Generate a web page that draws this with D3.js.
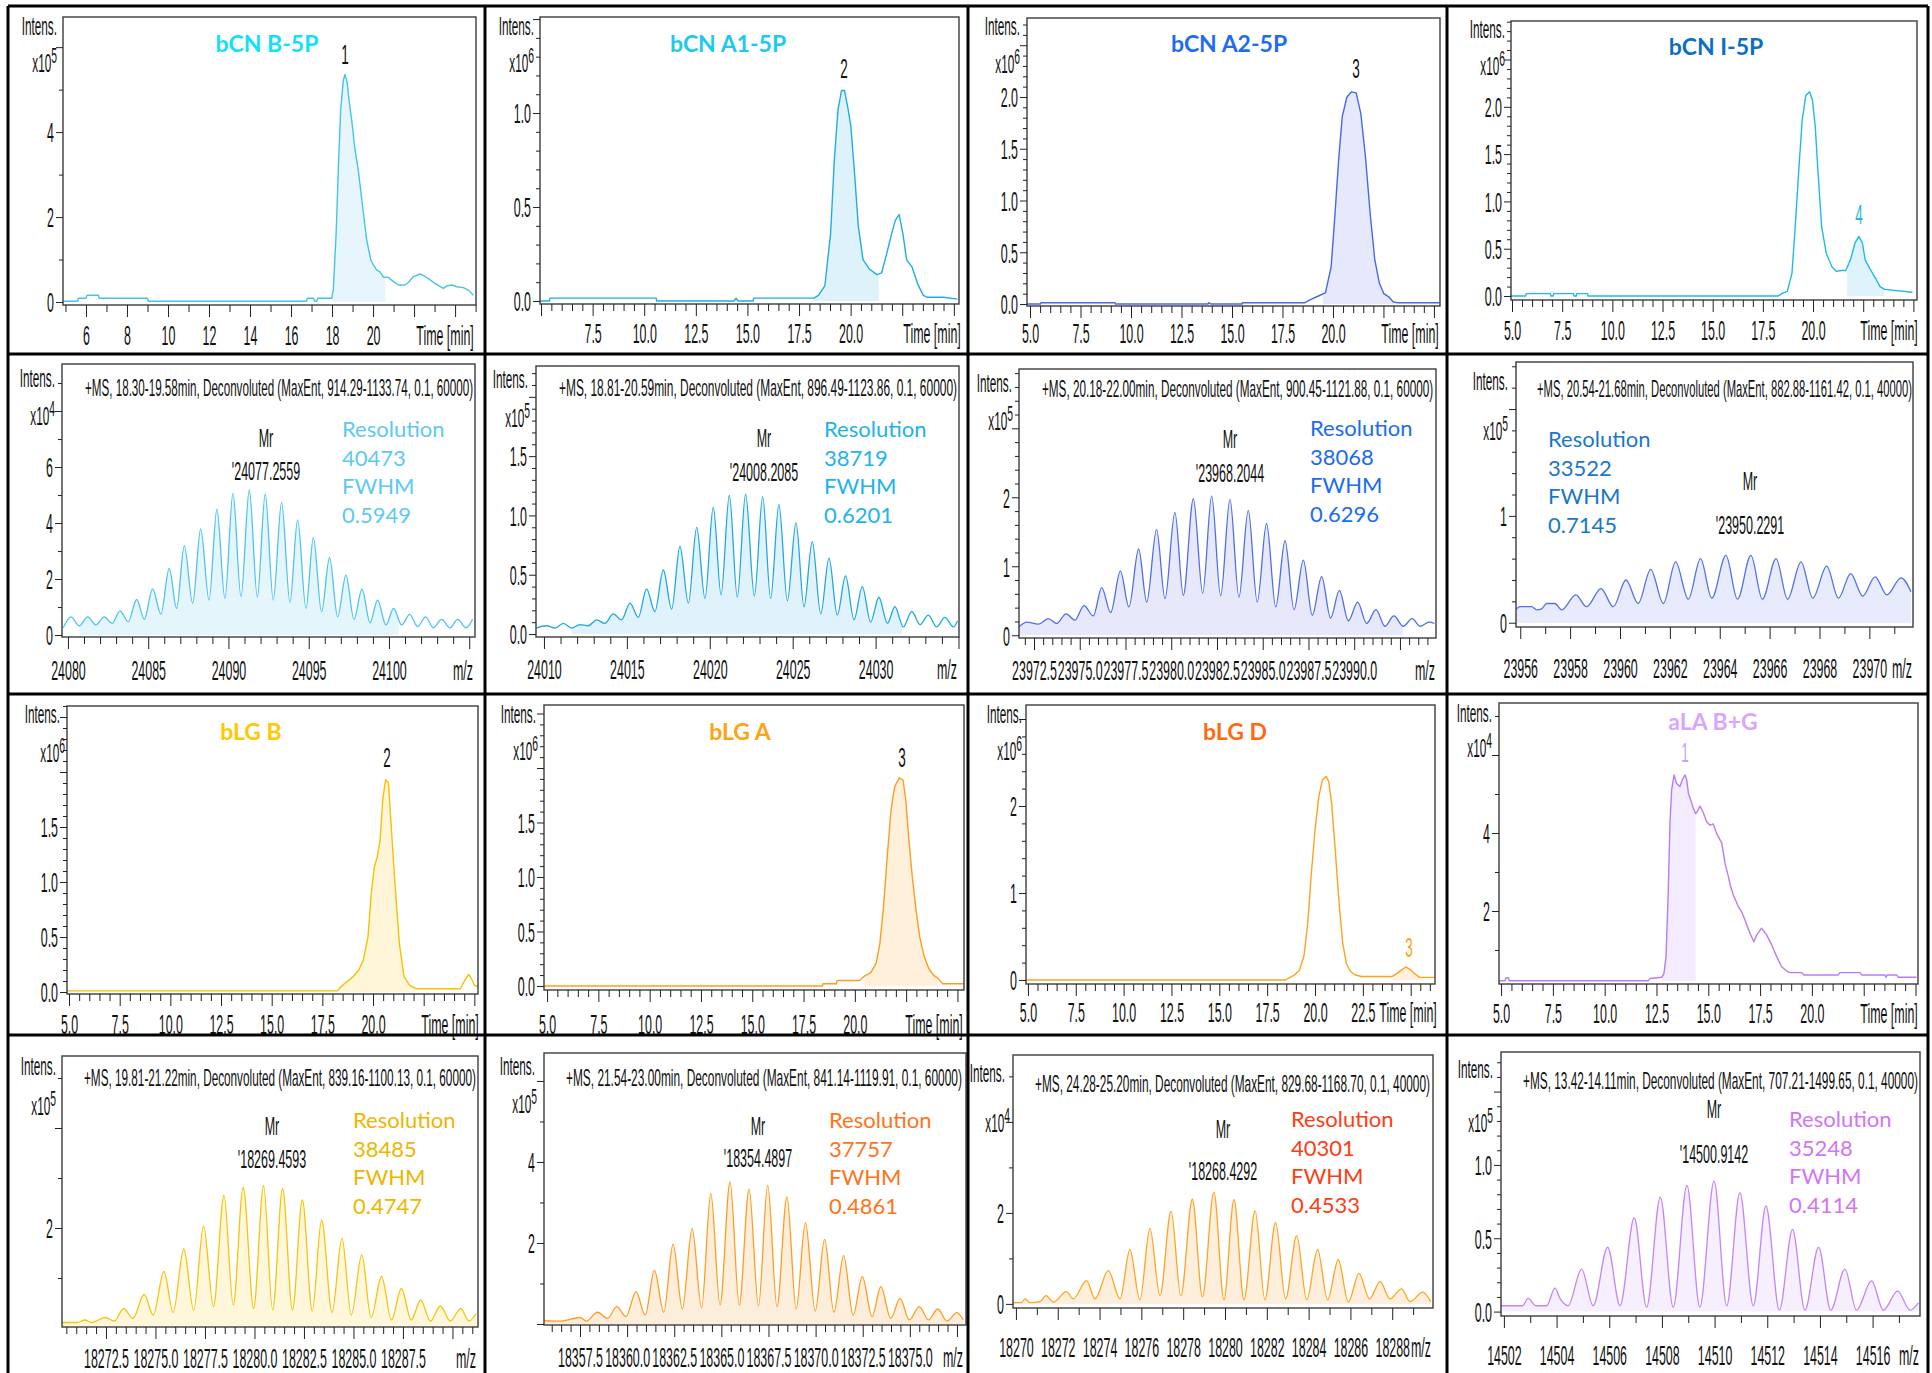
<!DOCTYPE html>
<html>
<head>
<meta charset="utf-8">
<script src="https://cdn.jsdelivr.net/npm/d3@7"></script>
<style>
  html, body { margin: 0; padding: 0; background: #fff; }
  svg { display: block; }
</style>
</head>
<body>
<script>
// ---------- sample names, annotations ----------
const titles = ["bCN B-5P", "bCN A1-5P", "bCN A2-5P", "bCN I-5P", "bLG B", "bLG A", "bLG D", "aLA B+G"];
const peakTags = ["1", "2", "3", "4", "2", "3", "3", "1"];
const scanHeaders = [
  "+MS, 18.30-19.58min, Deconvoluted (MaxEnt, 914.29-1133.74, 0.1, 60000)",
  "+MS, 18.81-20.59min, Deconvoluted (MaxEnt, 896.49-1123.86, 0.1, 60000)",
  "+MS, 20.18-22.00min, Deconvoluted (MaxEnt, 900.45-1121.88, 0.1, 60000)",
  "+MS, 20.54-21.68min, Deconvoluted (MaxEnt, 882.88-1161.42, 0.1, 40000)",
  "+MS, 19.81-21.22min, Deconvoluted (MaxEnt, 839.16-1100.13, 0.1, 60000)",
  "+MS, 21.54-23.00min, Deconvoluted (MaxEnt, 841.14-1119.91, 0.1, 60000)",
  "+MS, 24.28-25.20min, Deconvoluted (MaxEnt, 829.68-1168.70, 0.1, 40000)",
  "+MS, 13.42-14.11min, Deconvoluted (MaxEnt, 707.21-1499.65, 0.1, 40000)"
];
const mrValues = ["24077.2559", "24008.2085", "23968.2044", "23950.2291", "18269.4593", "18354.4897", "18268.4292", "14500.9142"];
const resolutions = ["40473", "38719", "38068", "33522", "38485", "37757", "40301", "35248"];
const fwhms = ["0.5949", "0.6201", "0.6296", "0.7145", "0.4747", "0.4861", "0.4533", "0.4114"];
const exponents = [5, 6, 6, 6, 4, 5, 5, 5, 6, 6, 6, 4, 5, 5, 4, 5];

// ---------- tick values ----------
const ticksTime2 = [6, 8, 10, 12, 14, 16, 18, 20, 22, 24];
const labelsTime2 = [6, 8, 10, 12, 14, 16, 18, 20];
const ticksTime25 = [5, 7.5, 10, 12.5, 15, 17.5, 20, 22.5, 25];
const labelsTime20 = [5, 7.5, 10, 12.5, 15, 17.5, 20];
const labelsTime20b = [7.5, 10, 12.5, 15, 17.5, 20];
const labelsTime225 = [5, 7.5, 10, 12.5, 15, 17.5, 20, 22.5];
const ticksMzB = [24080, 24085, 24090, 24095, 24100, 24105];
const labelsMzB = [24080, 24085, 24090, 24095, 24100];
const ticksMzA1 = [24010, 24015, 24020, 24025, 24030, 24035];
const labelsMzA1 = [24010, 24015, 24020, 24025, 24030];
const ticksMzA2 = [23972.5, 23975, 23977.5, 23980, 23982.5, 23985, 23987.5, 23990, 23992.5];
const labelsMzA2 = [23972.5, 23975, 23977.5, 23980, 23982.5, 23985, 23987.5, 23990];
const ticksMzI = [23956, 23958, 23960, 23962, 23964, 23966, 23968, 23970];
const ticksMzLgB = [18272.5, 18275, 18277.5, 18280, 18282.5, 18285, 18287.5, 18290];
const labelsMzLgB = [18272.5, 18275, 18277.5, 18280, 18282.5, 18285, 18287.5];
const ticksMzLgA = [18357.5, 18360, 18362.5, 18365, 18367.5, 18370, 18372.5, 18375, 18377.5];
const labelsMzLgA = [18357.5, 18360, 18362.5, 18365, 18367.5, 18370, 18372.5, 18375];
const ticksMzLgD = [18270, 18272, 18274, 18276, 18278, 18280, 18282, 18284, 18286, 18288];
const ticksMzLa = [14502, 14504, 14506, 14508, 14510, 14512, 14514, 14516];

// ---------- chromatograms: [time (min), intensity] ----------
const bcnB5P_tic = [[4.88,0.02],[5.6,0.02],[5.62,0.09],[6.0,0.09],[6.05,0.16],[6.6,0.16],[6.65,0.09],[9.0,0.09],[9.05,0.02],[16.75,0.02],[16.8,0.09],[17.1,0.09],[17.15,0.02],[17.25,0.02],[17.3,0.09],[17.98,0.09],[18.06,0.28],[18.2,1.62],[18.31,3.18],[18.42,4.52],[18.55,5.22],[18.63,5.36],[18.74,5.15],[18.83,4.75],[18.96,4.28],[19.12,3.58],[19.28,3.10],[19.53,2.09],[19.69,1.46],[19.89,0.99],[20.02,0.87],[20.18,0.75],[20.34,0.71],[20.5,0.59],[20.75,0.58],[20.99,0.48],[21.23,0.40],[21.56,0.40],[21.72,0.46],[21.97,0.60],[22.29,0.66],[22.54,0.60],[22.78,0.52],[23.02,0.44],[23.43,0.32],[23.6,0.38],[23.84,0.40],[24.08,0.36],[24.4,0.34],[24.65,0.28],[24.89,0.16]];
const bcnA15P_tic = [[4.95,0.0],[5.41,0.0],[5.43,0.015],[10.58,0.015],[10.6,0.0],[14.35,0.0],[14.45,0.015],[14.55,0.0],[15.28,0.0],[15.3,0.015],[18.22,0.015],[18.44,0.03],[18.75,0.08],[19.03,0.36],[19.21,0.75],[19.39,1.02],[19.56,1.12],[19.70,1.12],[19.88,1.02],[20.01,0.93],[20.19,0.68],[20.37,0.40],[20.60,0.22],[20.91,0.17],[21.27,0.14],[21.50,0.15],[21.72,0.24],[21.99,0.36],[22.17,0.43],[22.35,0.46],[22.53,0.36],[22.71,0.22],[22.98,0.18],[23.25,0.09],[23.52,0.03],[23.70,0.02],[24.50,0.02],[25.18,0.01]];
const bcnA25P_tic = [[4.85,0.0],[5.52,0.0],[5.54,0.013],[9.21,0.013],[9.23,0.0],[13.81,0.0],[13.85,0.013],[13.95,0.0],[15.50,0.0],[15.52,0.013],[18.61,0.013],[18.86,0.04],[19.31,0.08],[19.63,0.11],[19.91,0.36],[20.09,0.84],[20.28,1.39],[20.46,1.81],[20.69,2.0],[20.92,2.05],[21.15,2.04],[21.38,1.84],[21.61,1.42],[21.84,0.88],[22.07,0.43],[22.30,0.20],[22.52,0.10],[22.76,0.07],[22.99,0.02],[23.21,0.013],[25.28,0.013]];
const bcnI5P_tic = [[4.95,0.0],[5.68,0.0],[5.70,0.025],[6.92,0.025],[6.94,0.0],[7.05,0.0],[7.07,0.025],[8.07,0.025],[8.09,0.0],[8.2,0.0],[8.22,0.025],[8.77,0.025],[8.79,0.0],[18.25,0.0],[18.49,0.03],[18.72,0.05],[18.95,0.24],[19.09,0.66],[19.28,1.30],[19.46,1.86],[19.64,2.12],[19.83,2.16],[19.97,2.07],[20.11,1.79],[20.25,1.30],[20.43,0.73],[20.66,0.45],[20.94,0.31],[21.17,0.26],[21.40,0.27],[21.63,0.27],[21.86,0.38],[22.09,0.56],[22.28,0.63],[22.46,0.56],[22.60,0.38],[22.83,0.29],[23.11,0.19],[23.34,0.10],[23.57,0.07],[24.95,0.04]];
const blgB_tic = [[4.9,0.01],[18.25,0.01],[18.38,0.04],[18.61,0.08],[18.84,0.11],[19.07,0.15],[19.30,0.2],[19.52,0.29],[19.75,0.5],[19.93,0.93],[20.07,1.14],[20.21,1.23],[20.35,1.38],[20.48,1.75],[20.62,1.93],[20.76,1.90],[20.89,1.53],[21.08,0.99],[21.30,0.44],[21.53,0.14],[21.81,0.06],[22.12,0.03],[24.31,0.03],[24.54,0.11],[24.72,0.16],[24.86,0.12],[25.0,0.06],[25.18,0.05]];
const blgA_tic = [[4.85,0.0],[18.43,0.0],[18.45,0.02],[19.11,0.02],[19.13,0.05],[20.23,0.05],[20.46,0.09],[20.77,0.12],[21.04,0.21],[21.22,0.39],[21.40,0.73],[21.58,1.19],[21.76,1.61],[21.94,1.83],[22.17,1.91],[22.35,1.89],[22.48,1.71],[22.62,1.37],[22.80,1.0],[22.98,0.70],[23.16,0.45],[23.38,0.27],[23.60,0.16],[23.83,0.10],[24.06,0.07],[24.28,0.02],[25.3,0.02]];
const blgD_tic = [[4.9,0.0],[18.45,0.0],[18.70,0.03],[18.94,0.06],[19.18,0.11],[19.42,0.27],[19.62,0.65],[19.81,1.23],[20.00,1.72],[20.20,2.11],[20.39,2.30],[20.58,2.34],[20.72,2.28],[20.87,2.03],[21.06,1.49],[21.26,0.88],[21.45,0.42],[21.64,0.19],[21.84,0.10],[22.08,0.06],[22.42,0.04],[24.01,0.04],[24.25,0.07],[24.49,0.11],[24.74,0.15],[24.98,0.12],[25.22,0.07],[25.46,0.03],[26.27,0.03]];
const alaBG_tic = [[4.9,0.21],[5.19,0.21],[5.24,0.29],[5.35,0.29],[5.40,0.21],[12.11,0.21],[12.19,0.27],[12.75,0.30],[12.86,0.40],[12.96,0.83],[13.07,2.54],[13.15,4.25],[13.23,5.10],[13.35,5.49],[13.47,5.27],[13.63,5.19],[13.76,5.38],[13.88,5.49],[13.96,5.36],[14.04,5.02],[14.15,4.85],[14.28,4.63],[14.39,4.50],[14.47,4.55],[14.60,4.69],[14.76,4.52],[14.92,4.29],[15.08,4.20],[15.24,4.23],[15.40,3.99],[15.65,3.74],[15.81,3.22],[15.97,2.88],[16.08,2.62],[16.21,2.41],[16.45,2.11],[16.61,1.98],[16.77,1.77],[17.01,1.43],[17.20,1.21],[17.33,1.38],[17.57,1.56],[17.82,1.38],[18.06,1.13],[18.30,0.83],[18.54,0.57],[18.78,0.46],[18.94,0.42],[19.50,0.42],[19.62,0.36],[21.27,0.36],[21.35,0.42],[22.32,0.42],[22.40,0.36],[23.52,0.36],[23.57,0.30],[23.64,0.36],[24.09,0.36],[24.17,0.30],[25.05,0.30]];

// ---------- deconvoluted spectra: [m/z, intensity] (apex and valley points) ----------
const bcnB5P_ms = [[24079.71,0.26],[24080.19,0.65],[24080.71,0.33],[24081.23,0.65],[24081.74,0.36],[24082.26,0.65],[24082.76,0.42],[24083.24,0.86],[24083.76,0.48],[24084.28,1.27],[24084.76,0.56],[24085.27,1.65],[24085.79,0.75],[24086.31,2.38],[24086.77,0.95],[24087.25,3.19],[24087.77,1.13],[24088.27,3.79],[24088.79,1.25],[24089.28,4.50],[24089.78,1.31],[24090.28,5.06],[24090.78,1.37],[24091.30,5.18],[24091.80,1.35],[24092.29,5.04],[24092.79,1.25],[24093.31,4.74],[24093.83,1.17],[24094.31,4.11],[24094.83,0.95],[24095.29,3.48],[24095.80,0.83],[24096.30,2.77],[24096.80,0.65],[24097.32,2.14],[24097.82,0.56],[24098.32,1.64],[24098.82,0.44],[24099.29,1.25],[24099.81,0.36],[24100.29,0.95],[24100.79,0.36],[24101.29,0.74],[24101.79,0.30],[24102.28,0.65],[24102.76,0.26],[24103.28,0.56],[24103.80,0.26],[24104.28,0.56],[24104.80,0.26],[24105.21,0.56]];
const bcnA15P_ms = [[24009.52,0.05],[24010.16,0.07],[24010.66,0.05],[24011.17,0.09],[24011.67,0.05],[24012.17,0.08],[24012.67,0.07],[24013.18,0.12],[24013.68,0.09],[24014.18,0.17],[24014.68,0.12],[24015.19,0.26],[24015.69,0.14],[24016.19,0.38],[24016.69,0.19],[24017.20,0.54],[24017.70,0.21],[24018.20,0.74],[24018.71,0.26],[24019.21,0.90],[24019.71,0.30],[24020.21,1.07],[24020.68,0.33],[24021.18,1.17],[24021.66,0.31],[24022.16,1.18],[24022.69,0.32],[24023.19,1.16],[24023.67,0.30],[24024.17,1.09],[24024.68,0.28],[24025.20,0.94],[24025.68,0.23],[24026.18,0.78],[24026.69,0.17],[24027.19,0.64],[24027.69,0.16],[24028.19,0.49],[24028.70,0.12],[24029.20,0.40],[24029.70,0.10],[24030.20,0.31],[24030.71,0.09],[24031.17,0.23],[24031.67,0.06],[24032.18,0.19],[24032.68,0.08],[24033.18,0.16],[24033.68,0.06],[24034.18,0.14],[24034.69,0.06],[24034.94,0.11]];
const bcnA25P_ms = [[23971.68,0.12],[23972.10,0.19],[23972.74,0.16],[23973.28,0.24],[23973.74,0.17],[23974.25,0.31],[23974.74,0.22],[23975.23,0.43],[23975.74,0.28],[23976.20,0.69],[23976.69,0.33],[23977.22,0.93],[23977.69,0.41],[23978.22,1.25],[23978.66,0.48],[23979.20,1.53],[23979.66,0.53],[23980.20,1.78],[23980.66,0.58],[23981.21,1.98],[23981.72,0.61],[23982.21,2.02],[23982.70,0.57],[23983.21,1.97],[23983.70,0.55],[23984.21,1.81],[23984.70,0.48],[23985.21,1.62],[23985.71,0.41],[23986.22,1.37],[23986.71,0.37],[23987.22,1.09],[23987.71,0.29],[23988.22,0.85],[23988.71,0.25],[23989.19,0.65],[23989.68,0.21],[23990.19,0.48],[23990.68,0.17],[23991.19,0.37],[23991.68,0.13],[23992.17,0.28],[23992.68,0.13],[23993.17,0.24],[23993.59,0.13],[23994.10,0.19],[23994.38,0.17]];
const bcnI5P_ms = [[23955.81,0.12],[23955.99,0.15],[23956.46,0.15],[23956.66,0.12],[23956.86,0.13],[23957.06,0.18],[23957.39,0.18],[23957.66,0.12],[23958.23,0.26],[23958.66,0.15],[23959.24,0.32],[23959.73,0.15],[23960.24,0.40],[23960.73,0.18],[23961.23,0.50],[23961.74,0.18],[23962.23,0.57],[23962.74,0.22],[23963.23,0.60],[23963.68,0.23],[23964.25,0.63],[23964.71,0.22],[23965.25,0.63],[23965.71,0.22],[23966.26,0.60],[23966.72,0.22],[23967.26,0.57],[23967.73,0.23],[23968.29,0.53],[23968.76,0.23],[23969.25,0.46],[23969.73,0.25],[23970.23,0.43],[23970.70,0.26],[23971.27,0.42],[23971.67,0.29]];
const blgB_ms = [[18270.27,0.11],[18271.05,0.11],[18271.43,0.16],[18271.77,0.11],[18272.46,0.21],[18272.93,0.14],[18273.39,0.39],[18273.86,0.19],[18274.43,0.67],[18274.89,0.26],[18275.43,1.13],[18275.89,0.31],[18276.43,1.58],[18276.93,0.36],[18277.43,2.04],[18277.93,0.43],[18278.46,2.65],[18278.93,0.46],[18279.43,2.81],[18279.96,0.39],[18280.46,2.85],[18280.92,0.36],[18281.42,2.79],[18281.92,0.36],[18282.42,2.56],[18282.92,0.34],[18283.39,2.16],[18283.92,0.31],[18284.42,1.79],[18284.89,0.26],[18285.42,1.46],[18285.89,0.21],[18286.42,1.03],[18286.92,0.16],[18287.42,0.79],[18287.92,0.16],[18288.39,0.56],[18288.89,0.14],[18289.39,0.44],[18289.89,0.14],[18290.42,0.39],[18290.83,0.14],[18291.20,0.29]];
const blgA_ms = [[18355.61,0.08],[18356.43,0.07],[18357.51,0.16],[18357.84,0.07],[18358.43,0.29],[18358.96,0.14],[18359.45,0.43],[18359.94,0.18],[18360.47,0.80],[18360.96,0.22],[18361.45,1.33],[18361.94,0.29],[18362.44,1.97],[18362.93,0.37],[18363.45,2.36],[18363.95,0.40],[18364.44,3.23],[18364.93,0.47],[18365.46,3.51],[18365.95,0.47],[18366.47,3.33],[18366.97,0.45],[18367.46,3.43],[18367.95,0.43],[18368.48,3.14],[18368.97,0.37],[18369.46,2.51],[18369.98,0.32],[18370.48,2.09],[18370.97,0.29],[18371.49,1.69],[18371.99,0.22],[18372.48,1.17],[18373.00,0.18],[18373.46,0.92],[18373.99,0.14],[18374.48,0.63],[18374.97,0.10],[18375.50,0.43],[18375.99,0.10],[18376.48,0.37],[18376.97,0.07],[18377.50,0.28],[18377.83,0.10]];
const blgD_ms = [[18269.84,0.03],[18270.27,0.03],[18270.43,0.11],[18270.67,0.03],[18271.15,0.05],[18271.44,0.18],[18271.79,0.04],[18272.42,0.27],[18272.74,0.11],[18273.38,0.51],[18273.78,0.11],[18274.42,0.73],[18274.98,0.11],[18275.45,1.19],[18275.93,0.09],[18276.41,1.66],[18276.89,0.18],[18277.42,2.04],[18277.89,0.18],[18278.44,2.30],[18278.92,0.16],[18279.47,2.45],[18279.95,0.09],[18280.43,2.29],[18280.91,0.09],[18281.44,2.05],[18281.91,0.09],[18282.42,1.79],[18282.90,0.11],[18283.43,1.50],[18283.91,0.09],[18284.43,1.19],[18284.91,0.09],[18285.42,0.97],[18285.90,0.04],[18286.41,0.67],[18286.91,0.11],[18287.42,0.49],[18287.89,0.11],[18288.45,0.33],[18288.85,0.05],[18289.46,0.26],[18289.84,0.05]];
const alaBG_ms = [[14501.87,0.04],[14502.71,0.04],[14502.92,0.09],[14503.22,0.04],[14503.62,0.04],[14503.94,0.16],[14504.13,0.09],[14504.44,0.04],[14504.95,0.29],[14505.39,0.04],[14505.94,0.44],[14506.41,0.04],[14506.95,0.64],[14507.42,0.03],[14507.94,0.78],[14508.43,0.03],[14508.95,0.86],[14509.44,0.03],[14509.98,0.89],[14510.46,0.04],[14510.96,0.81],[14511.47,0.04],[14511.95,0.72],[14512.46,0.01],[14512.96,0.56],[14513.43,0.01],[14513.95,0.44],[14514.41,0.01],[14514.95,0.29],[14515.39,0.01],[14515.96,0.21],[14516.41,0.01],[14516.95,0.14],[14517.42,0.01],[14517.74,0.06]];

// ---------- panel layout ----------
const panels = [
  { kind: "tic", ti: 0, data: bcnB5P_tic, frame: [63, 17, 476, 305], xd: [4.88, 25.02], yd: [-0.07, 6.71],
    xMajor: ticksTime2, xLab: labelsTime2, xFmt: "d", xMinor: 1, yMajor: [0, 2, 4, 6], yLab: [0, 2, 4], yFmt: "d", yMinor: 1,
    labY: 335, unitX: 445, intens: [57, 35], expo: [57, 72], title: [267, 52, "#12e0f8"], tag: [345, 64, "#111"],
    line: "#45c3ee", area: "#e6f6fc", fill: [17.98, 20.6] },
  { kind: "tic", ti: 1, data: bcnA15P_tic, frame: [540, 17, 959, 304], xd: [4.95, 25.25], yd: [-0.016, 1.511],
    xMajor: ticksTime25, xLab: labelsTime20b, xFmt: ".1f", xMinor: 0.5, yMajor: [0, 0.5, 1, 1.5], yLab: [0, 0.5, 1], yFmt: ".1f", yMinor: 0.1,
    labY: 333, unitX: 932, intens: [534, 35], expo: [534, 72], title: [728, 52, "#1cc9ef"], tag: [844, 78, "#111"],
    line: "#22ace6", area: "#def2fb", fill: [18.2, 21.36] },
  { kind: "tic", ti: 2, data: bcnA25P_tic, frame: [1027, 18, 1440, 306], xd: [4.85, 25.30], yd: [-0.019, 2.763],
    xMajor: ticksTime25, xLab: labelsTime20, xFmt: ".1f", xMinor: 0.5, yMajor: [0, 0.5, 1, 1.5, 2, 2.5], yLab: [0, 0.5, 1, 1.5, 2], yFmt: ".1f", yMinor: 0.1,
    labY: 333, unitX: 1410, intens: [1020, 35], expo: [1020, 73], title: [1229, 52, "#1f6cf2"], tag: [1356, 78, "#111"],
    line: "#4a68e6", area: "#e6e9fb", fill: [19.5, 23.0] },
  { kind: "tic", ti: 3, data: bcnI5P_tic, frame: [1511, 21, 1917, 300], xd: [4.95, 25.18], yd: [-0.042, 2.907],
    xMajor: ticksTime25, xLab: labelsTime20, xFmt: ".1f", xMinor: 0.5, yMajor: [0, 0.5, 1, 1.5, 2, 2.5], yLab: [0, 0.5, 1, 1.5, 2], yFmt: ".1f", yMinor: 0.1,
    labY: 330, unitX: 1889, intens: [1505, 38], expo: [1505, 75], title: [1716, 55, "#0b6fc4"], tag: [1859, 224, "#29b4e8"],
    line: "#1ebbea", area: "#dff3fb", fill: [21.7, 23.57] },

  { kind: "ms", si: 0, data: bcnB5P_ms, frame: [62, 364, 475, 637], xd: [24079.63, 24105.36], yd: [-0.07, 9.68],
    xMajor: ticksMzB, xLab: labelsMzB, xFmt: "d", xMinor: 1, yMajor: [0, 2, 4, 6, 8], yLab: [0, 2, 4, 6], yFmt: "d", yMinor: 1,
    labY: 670, unitX: 463, intens: [55, 387], expo: [55, 425], head: [85, 473, 396], mr: [266, 447, 480], res: [342, 437, "#5ec9f4"],
    line: "#4cc4ef", area: "#e4f5fc", fill: [24080.71, 24100.6] },
  { kind: "ms", si: 1, data: bcnA15P_ms, frame: [536, 366, 959, 637], xd: [24009.52, 24035.03], yd: [-0.025, 2.26],
    xMajor: ticksMzA1, xLab: labelsMzA1, xFmt: "d", xMinor: 1, yMajor: [0, 0.5, 1, 1.5, 2], yLab: [0, 0.5, 1, 1.5], yFmt: ".1f", yMinor: 0.1,
    labY: 669, unitX: 947, intens: [528, 388], expo: [530, 427], head: [559, 957, 396], mr: [764, 447, 481], res: [824, 437, "#1db3ec"],
    line: "#20a8e4", area: "#e0f2fb", fill: [24011.67, 24031.6] },
  { kind: "ms", si: 2, data: bcnA25P_ms, frame: [1019, 369, 1436, 638], xd: [23971.68, 23994.47], yd: [-0.04, 3.86],
    xMajor: ticksMzA2, xLab: labelsMzA2, xFmt: ".1f", xMinor: 0.5, yMajor: [0, 1, 2, 3], yLab: [0, 1, 2], yFmt: "d", yMinor: 0.2,
    labY: 670, unitX: 1425, intens: [1012, 392], expo: [1013, 430], head: [1042, 1433, 397], mr: [1230, 448, 482], res: [1310, 436, "#1b6cf0"],
    line: "#4f6ee8", area: "#e7e9fb", fill: [23971.68, 23992.65] },
  { kind: "ms", si: 3, data: bcnI5P_ms, frame: [1516, 362, 1913, 627], xd: [23955.83, 23971.75], yd: [-0.04, 2.44],
    xMajor: ticksMzI, xLab: ticksMzI, xFmt: "d", xMinor: 1, yMajor: [0, 1, 2], yLab: [0, 1], yFmt: "d", yMinor: 0.2,
    labY: 668, unitX: 1902, intens: [1508, 390], expo: [1508, 440], head: [1537, 1912, 397], mr: [1750, 490, 534], res: [1548, 447, "#1a77c9"],
    line: "#5272e6", area: "#e8ebfb", fill: null },

  { kind: "tic", ti: 4, data: blgB_tic, frame: [67, 706, 478, 994], xd: [4.9, 25.18], yd: [-0.018, 2.6],
    xMajor: ticksTime25, xLab: labelsTime20, xFmt: ".1f", xMinor: 0.5, yMajor: [0, 0.5, 1, 1.5, 2, 2.5], yLab: [0, 0.5, 1, 1.5], yFmt: ".1f", yMinor: 0.1,
    labY: 1024, unitX: 450, intens: [60, 723], expo: [65, 762], title: [251, 740, "#ffc800"], tag: [387, 767, "#111"],
    line: "#f7c000", area: "#fff6da", fill: [18.35, 22.05] },
  { kind: "tic", ti: 5, data: blgA_tic, frame: [544, 705, 964, 990], xd: [4.85, 25.32], yd: [-0.037, 2.578],
    xMajor: ticksTime25, xLab: labelsTime20, xFmt: ".1f", xMinor: 0.5, yMajor: [0, 0.5, 1, 1.5, 2, 2.5], yLab: [0, 0.5, 1, 1.5], yFmt: ".1f", yMinor: 0.1,
    labY: 1024, unitX: 934, intens: [536, 723], expo: [538, 760], title: [740, 740, "#ffa312"], tag: [902, 767, "#111"],
    line: "#ff9d1e", area: "#fff0db", fill: [20.46, 24.06] },
  { kind: "tic", ti: 6, data: blgD_tic, frame: [1026, 705, 1435, 984], xd: [4.9, 26.27], yd: [-0.046, 3.161],
    xMajor: ticksTime25, xLab: labelsTime225, xFmt: ".1f", xMinor: 0.5, yMajor: [0, 1, 2, 3], yLab: [0, 1, 2], yFmt: "d", yMinor: 0.2,
    labY: 1012, unitX: 1408, intens: [1022, 723], expo: [1022, 760], title: [1235, 740, "#ff6a10"], tag: [1409, 957, "#ff9f1a"],
    line: "#ffa222", area: "#fff1de", fill: [24.0, 25.6] },
  { kind: "tic", ti: 7, data: alaBG_tic, frame: [1499, 703, 1918, 984], xd: [4.9, 25.12], yd: [0.128, 7.333],
    xMajor: ticksTime25, xLab: labelsTime20, xFmt: ".1f", xMinor: 0.5, yMajor: [2, 4, 6], yLab: [2, 4], yFmt: "d", yMinor: 1,
    labY: 1013, unitX: 1889, intens: [1492, 722], expo: [1492, 757], title: [1713, 730, "#d9a6ff"], tag: [1685, 762, "#c9a2f7"],
    line: "#b77cf6", area: "#f3ecfe", fill: [12.75, 14.39], base: 0.21 },

  { kind: "ms", si: 4, data: blgB_ms, frame: [62, 1056, 478, 1327], xd: [18270.28, 18291.29], yd: [0.02, 5.44],
    xMajor: ticksMzLgB, xLab: labelsMzLgB, xFmt: ".1f", xMinor: 0.5, yMajor: [2, 4], yLab: [2], yFmt: "d", yMinor: 1,
    labY: 1358, unitX: 466, intens: [56, 1075], expo: [56, 1115], head: [84, 476, 1086], mr: [272, 1135, 1168], res: [353, 1128, "#eeb600"],
    line: "#f7c40a", area: "#fff7dc", fill: null },
  { kind: "ms", si: 5, data: blgA_ms, frame: [544, 1053, 966, 1325], xd: [18355.59, 18377.98], yd: [-0.025, 6.69],
    xMajor: ticksMzLgA, xLab: labelsMzLgA, xFmt: ".1f", xMinor: 0.5, yMajor: [0, 2, 4, 6], yLab: [2, 4], yFmt: "d", yMinor: 1,
    labY: 1357, unitX: 953, intens: [535, 1075], expo: [537, 1113], head: [566, 962, 1086], mr: [758, 1135, 1167], res: [829, 1128, "#ff7418"],
    line: "#ff9d20", area: "#fdeedc", fill: null },
  { kind: "ms", si: 6, data: blgD_ms, frame: [1013, 1055, 1433, 1308], xd: [18269.86, 18289.95], yd: [-0.09, 5.47],
    xMajor: ticksMzLgD, xLab: ticksMzLgD, xFmt: "d", xMinor: 1, yMajor: [0, 2, 4], yLab: [0, 2], yFmt: "d", yMinor: 1,
    labY: 1347, unitX: 1421, intens: [1005, 1082], expo: [1010, 1132], head: [1035, 1430, 1092], mr: [1223, 1138, 1180], res: [1291, 1127, "#ff3d12"],
    line: "#ffa424", area: "#fdefdc", fill: null },
  { kind: "ms", si: 7, data: alaBG_ms, frame: [1501, 1052, 1920, 1316], xd: [14501.89, 14517.8], yd: [-0.03, 1.77],
    xMajor: ticksMzLa, xLab: ticksMzLa, xFmt: "d", xMinor: 1, yMajor: [0, 0.5, 1, 1.5], yLab: [0, 0.5, 1], yFmt: ".1f", yMinor: 0.1,
    labY: 1355, unitX: 1909, intens: [1493, 1078], expo: [1493, 1132], head: [1523, 1918, 1089], mr: [1714, 1118, 1163], res: [1789, 1127, "#d275f5"],
    line: "#c485f8", area: "#f6effe", fill: null }
];

// ---------- drawing ----------
const W = 1932, H = 1373;
const COND = "'Liberation Sans', Arial, Helvetica, sans-serif";
const HUM = "Lato, 'Open Sans', sans-serif";
const TICK_SX = 0.46, TICK_SIZE = 27;

const svg = d3.select("body").append("svg").attr("width", W).attr("height", H);
svg.append("rect").attr("width", W).attr("height", H).attr("fill", "#fff");
const defs = svg.append("defs");

// Narrow instrument-style text: horizontally compressed, optionally fitted to a width
function condText(parent, str, x, y, o = {}) {
  const size = o.size || TICK_SIZE, sx = o.sx || TICK_SX;
  const t = parent.append("text")
    .attr("font-family", COND).attr("font-size", size)
    .attr("text-anchor", o.anchor || "middle").attr("fill", o.fill || "#111")
    .attr("transform", `translate(${x},${y}) scale(${sx},1)`)
    .text(str);
  if (o.width) {
    const w = t.node().getComputedTextLength();
    t.attr("transform", `translate(${x},${y}) scale(${o.width / w},1)`);
  }
  return t;
}

function minorValues(domain, step, majors) {
  const lo = Math.ceil(domain[0] / step - 1e-9), hi = Math.floor(domain[1] / step + 1e-9);
  const out = [];
  for (let k = lo; k <= hi; k++) {
    const v = +(k * step).toFixed(6);
    if (!majors.some(m => Math.abs(m - v) < 1e-6)) out.push(v);
  }
  return out;
}

const inList = (list, v) => list.some(l => Math.abs(l - v) < 1e-6);

panels.forEach((p, i) => {
  const [x0, y0, x1, y1] = p.frame;
  const x = d3.scaleLinear().domain(p.xd).range([x0, x1]);
  const y = d3.scaleLinear().domain(p.yd).range([y1, y0]);
  const g = svg.append("g").attr("class", "panel");

  const cid = "plotclip" + i, fid = "areaclip" + i;
  defs.append("clipPath").attr("id", cid).append("rect")
    .attr("x", x0).attr("y", y0).attr("width", x1 - x0).attr("height", y1 - y0);
  const fr = p.fill || p.xd;
  defs.append("clipPath").attr("id", fid).append("rect")
    .attr("x", x(fr[0])).attr("y", y0).attr("width", x(fr[1]) - x(fr[0])).attr("height", y1 - y0);

  const curve = p.kind === "ms" ? d3.curveMonotoneX : d3.curveLinear;
  const area = d3.area().x(d => x(d[0])).y0(y(p.base || 0)).y1(d => y(d[1])).curve(curve);
  const line = d3.line().x(d => x(d[0])).y(d => y(d[1])).curve(curve);

  const plot = g.append("g").attr("clip-path", `url(#${cid})`);
  plot.append("g").attr("clip-path", `url(#${fid})`)
    .append("path").datum(p.data).attr("d", area).attr("fill", p.area);
  plot.append("path").datum(p.data).attr("d", line)
    .attr("fill", "none").attr("stroke", p.line).attr("stroke-width", p.kind === "ms" ? 1.3 : 1.4)
    .attr("stroke-linejoin", "round");

  g.append("rect").attr("x", x0).attr("y", y0).attr("width", x1 - x0).attr("height", y1 - y0)
    .attr("fill", "none").attr("stroke", "#3c3c3c").attr("stroke-width", 1.4);

  // x axis
  const xf = d3.format(p.xFmt);
  const xa = g.append("g").attr("transform", `translate(0,${y1})`)
    .call(d3.axisBottom(x).tickValues(p.xMajor.filter(v => v >= p.xd[0] && v <= p.xd[1]))
      .tickSize(12).tickFormat(v => inList(p.xLab, v) ? xf(v) : ""));
  xa.select(".domain").remove();
  xa.selectAll("line").attr("stroke", "#222");
  xa.selectAll("text").attr("y", null).attr("dy", null)
    .attr("font-family", COND).attr("font-size", TICK_SIZE).attr("fill", "#111")
    .attr("transform", `translate(0,${p.labY - y1 + 9.8}) scale(${TICK_SX},1)`);
  const xm = g.append("g").attr("transform", `translate(0,${y1})`)
    .call(d3.axisBottom(x).tickValues(minorValues(p.xd, p.xMinor, p.xMajor)).tickSize(7).tickFormat(""));
  xm.select(".domain").remove();
  xm.selectAll("line").attr("stroke", "#222");

  // y axis
  const yf = d3.format(p.yFmt);
  const ya = g.append("g").attr("transform", `translate(${x0},0)`)
    .call(d3.axisLeft(y).tickValues(p.yMajor.filter(v => v >= p.yd[0] && v <= p.yd[1]))
      .tickSize(7).tickFormat(v => inList(p.yLab, v) ? yf(v) : ""));
  ya.select(".domain").remove();
  ya.selectAll("line").attr("stroke", "#222");
  ya.selectAll("text").attr("x", null).attr("dy", null)
    .attr("font-family", COND).attr("font-size", TICK_SIZE).attr("fill", "#111").attr("text-anchor", "end")
    .attr("transform", `translate(-9,9.8) scale(${TICK_SX},1)`);
  const ym = g.append("g").attr("transform", `translate(${x0},0)`)
    .call(d3.axisLeft(y).tickValues(minorValues(p.yd, p.yMinor, p.yMajor)).tickSize(4).tickFormat(""));
  ym.select(".domain").remove();
  ym.selectAll("line").attr("stroke", "#222");

  // axis captions
  condText(g, p.kind === "ms" ? "m/z" : "Time [min]", p.unitX, p.labY + 9.8);
  condText(g, "Intens.", p.intens[0], p.intens[1], { anchor: "end", size: 25, sx: 0.47 });
  const ex = g.append("text").attr("font-family", COND).attr("font-size", 25).attr("fill", "#111")
    .attr("text-anchor", "end").attr("transform", `translate(${p.expo[0]},${p.expo[1]}) scale(0.47,1)`);
  ex.append("tspan").text("x10");
  ex.append("tspan").attr("dy", "-0.42em").attr("font-size", 22).text(exponents[i]);

  if (p.kind === "tic") {
    g.append("text").attr("x", p.title[0]).attr("y", p.title[1]).attr("text-anchor", "middle")
      .attr("font-family", HUM).attr("font-weight", 700).attr("font-size", 23).attr("fill", p.title[2])
      .text(titles[p.ti]);
    condText(g, peakTags[p.ti], p.tag[0], p.tag[1], { sx: 0.5, fill: p.tag[2] });
  } else {
    condText(g, scanHeaders[p.si], p.head[0], p.head[2], { anchor: "start", size: 23, width: p.head[1] - p.head[0] });
    condText(g, "Mr", p.mr[0], p.mr[1], { size: 25, sx: 0.5 });
    condText(g, "'" + mrValues[p.si], p.mr[0], p.mr[2], { size: 25, sx: 0.5 });
    ["Resolution", resolutions[p.si], "FWHM", fwhms[p.si]].forEach((s, j) => {
      g.append("text").attr("x", p.res[0]).attr("y", p.res[1] + j * 28.5)
        .attr("font-family", HUM).attr("font-size", 22).attr("fill", p.res[2]).text(s);
    });
  }
});

// cell grid
const gridX = [8, 485, 968, 1447, 1928];
const gridY = [6, 354, 694, 1035];
const grid = svg.append("g").attr("stroke", "#000").attr("stroke-width", 3);
gridX.forEach(gx => grid.append("line").attr("x1", gx).attr("x2", gx).attr("y1", 6).attr("y2", H));
gridY.forEach(gy => grid.append("line").attr("x1", 8).attr("x2", 1928).attr("y1", gy).attr("y2", gy));
</script>
</body>
</html>
